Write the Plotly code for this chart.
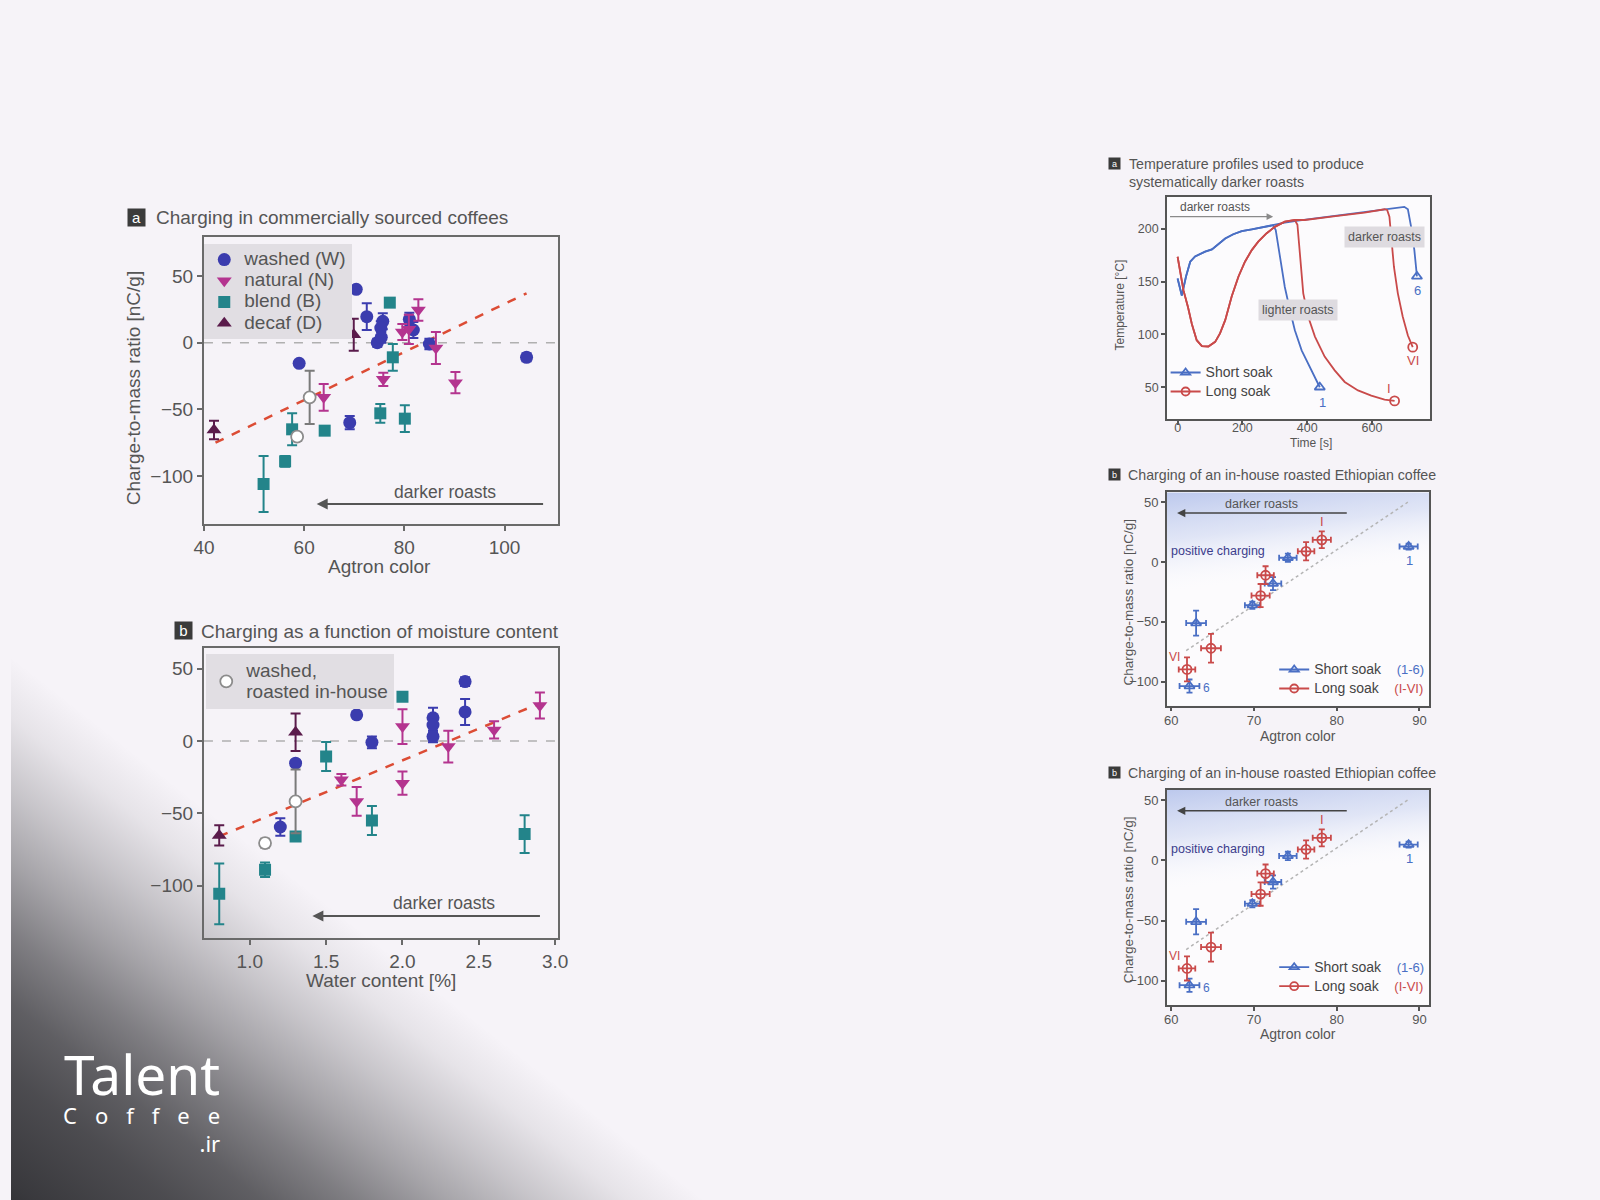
import base64
import plotly.graph_objects as go

W, H = 1600, 1200
FONT = "Liberation Sans, Arial, Helvetica, sans-serif"
TXT = "#555555"

# ---------------- data ----------------
# Panel a: commercially sourced coffees, Agtron colour vs charge-to-mass ratio [nC/g]
washed_agtron = [70.4, 72.5, 75.7, 75.3, 74.6, 75.4, 81.0, 81.8, 85.0, 104.4, 59.0, 69.1]
washed_charge_a = [40, 19.5, 16, 11, 0, 4, 17.5, 9.5, -1, -11, -15.5, -60]
washed_err_a = [2, 10, 6, 5, 3, 4, 5, 6, 4, 3, 2, 5]

natural_agtron = [82.8, 79.6, 80.9, 86.3, 75.8, 90.2, 63.9]
natural_charge_a = [24.5, 8, 10, -4, -27.5, -30, -41]
natural_err_a = [8, 6, 11, 12, 5, 8, 10]

blend_agtron = [77.1, 77.7, 75.2, 80.1, 64.1, 57.6, 56.2, 51.9]
blend_charge_a = [30, -11, -53, -57, -66, -65, -89, -106]
blend_err_a = [3, 10, 7, 10, 2, 12, 4, 21]

decaf_agtron = [69.9, 42.0]
decaf_charge_a = [6, -65.5]
decaf_err_a = [12, 7]

inhouse_agtron = [61.1, 58.6]
inhouse_charge_a = [-41, -70.5]
inhouse_err_a = [20, 3]

fit_a_x = [42.3, 104.4]
fit_a_y = [-75, 37]

# Panel b: water content [%] vs charge-to-mass ratio
washed_water = [2.41, 2.41, 2.2, 2.2, 2.2, 1.7, 1.8, 1.3, 1.2]
washed_charge_b = [41, 20, 16, 11, 3, 18, -1, -15.4, -59.5]
washed_err_b = [3, 9, 7, 5, 4, 2, 4, 2, 6]

natural_water = [2.9, 2.6, 2.0, 2.0, 2.3, 1.6, 1.7]
natural_charge_b = [24.4, 7.6, 9.9, -29.2, -3.9, -26.9, -41.8]
natural_err_b = [9, 6, 12, 8, 11, 4, 10]

blend_water = [2.0, 1.5, 1.8, 2.8, 1.3, 1.1, 0.8]
blend_charge_b = [30.6, -10.8, -55, -64.4, -66, -89, -105.7]
blend_err_b = [3, 10, 10, 13, 2, 5, 21]

decaf_water = [1.3, 0.8]
decaf_charge_b = [6, -65.3]
decaf_err_b = [13, 7]

inhouse_water = [1.3, 1.1]
inhouse_charge_b = [-41.8, -70.6]
inhouse_err_b = [22, 3]

fit_b_x = [0.8, 2.9]
fit_b_y = [-66, 26]

# Temperature profiles (time [s], temperature [°C])
short_common_t = [0, 13, 26, 39, 54, 85, 106, 126, 147, 172, 198, 229, 259, 295]
short_common_T = [153, 137, 155, 169, 174, 178.5, 180.7, 185.4, 191, 195, 198, 199.7, 201.6, 203.5]
short1_tail_t = [303, 311, 321, 331, 347, 362, 383, 403, 424, 439]
short1_tail_T = [199, 183, 164, 145, 123, 104, 85, 72.5, 60, 50]
short6_tail_t = [331, 372, 475, 577, 659, 700, 711, 721, 731, 739]
short6_tail_T = [206, 208, 212, 216.5, 219.6, 221, 218.7, 202, 180, 155]

long_common_t = [0, 8, 18, 32, 44, 59, 75, 95, 116, 131, 147, 167, 188, 208, 229, 249, 275, 300, 331, 362]
long_common_T = [173.7, 158, 142, 126, 110, 94.6, 89, 88.6, 93, 101, 113.6, 136, 155, 169, 180, 188, 196, 202, 207, 208.5]
longI_tail_t = [370, 375, 381, 388, 403, 424, 454, 485, 516, 557, 598, 639, 670]
longI_tail_T = [204, 186, 161, 139, 117, 98, 79, 66, 55, 47, 42, 38.3, 37]
longVI_tail_t = [393, 475, 577, 639, 647, 654, 659, 668, 680, 695, 711, 726]
longVI_tail_T = [208.5, 211.7, 215.5, 218.7, 218, 211.7, 192.7, 164, 139, 117, 99, 88]

# In-house roasted Ethiopian coffee: Agtron colour vs charge-to-mass ratio
short_agtron = [88.7, 74.1, 72.3, 69.8, 63.0, 62.2]
short_charge = [13, 3.6, -18, -36, -51, -103.6]
short_agtron_err = [1.1, 1.06, 1.0, 0.9, 1.2, 1.2]
short_charge_err = [2.5, 3.5, 5.5, 3, 10.5, 5.5]

long_agtron = [78.2, 76.3, 71.4, 70.8, 64.8, 61.9]
long_charge = [18.6, 9, -11, -28, -72, -89.7]
long_agtron_err = [1.1, 1.0, 1.0, 1.1, 1.2, 1.0]
long_charge_err = [7, 7.6, 7.5, 9.7, 12, 10]

guide_x = [61.8, 88.6]
guide_y = [-74, 50]

# axis ranges and ticks
a_xrange, a_yrange = [40, 110.6], [-136, 79]
b_xrange, b_yrange = [0.70, 3.016], [-136, 64]
t_xrange, t_yrange = [-33, 779], [19.6, 230.6]
e_xrange, e_yrange = [59.47, 91.2], [-120, 58.3]
a_xticks, a_yticks = [40, 60, 80, 100], [-100, -50, 0, 50]
b_xticks = [1.0, 1.5, 2.0, 2.5, 3.0]
t_xticks, t_yticks = [0, 200, 400, 600], [50, 100, 150, 200]
e_xticks, e_yticks = [60, 70, 80, 90], [-100, -50, 0, 50]

# ---------------- styles ----------------
C_WASHED = "#3b3cae"
C_NATURAL = "#b4348f"
C_BLEND = "#23848a"
C_DECAF = "#5a1b4b"
C_FIT = "#dc4c35"
C_SHORT = "#4a6fc4"
C_LONG = "#c94a4a"
LEFT_FS = 19          # text size in the two left panels
RIGHT_TITLE_FS = 14.2

# the page is photographed with the figure drawn 8 px in from the left and 1584 px wide
OX, PW = 8.0, 1584.0


def px(x):
    return (x - OX) / PW


def py(y):
    return 1 - y / H


def xdom(l, r):
    return [px(l), px(r)]


def ydom(t, b):
    return [1 - b / H, 1 - t / H]


def sz(text, size, color=None, extra=""):
    style = "font-size:%spx" % size
    if color:
        style += ";color:%s" % color
    if extra:
        style += ";" + extra
    return "<span style='%s'>%s</span>" % (style, text)


fig = go.Figure()


def add_points(x, y, err, color, symbol, name, xa, ya, legend, show, size=13, hollow=False):
    if hollow:
        marker = dict(symbol="circle", size=size - 1, color="#ffffff",
                      line=dict(color="#8c8c8c", width=1.8))
        ecolor = "#7a7a7a"
    else:
        marker = dict(symbol=symbol, size=size, color=color, line=dict(width=0))
        ecolor = color
    fig.add_trace(go.Scatter(
        x=x, y=y, mode="markers", name=name, xaxis=xa, yaxis=ya, legend=legend,
        showlegend=show, marker=marker, hoverinfo="skip",
        error_y=dict(type="data", array=err, color=ecolor, thickness=2, width=5)))


def add_line(x, y, xa, ya, color, width, dash="solid"):
    fig.add_trace(go.Scatter(x=x, y=y, mode="lines", xaxis=xa, yaxis=ya, showlegend=False,
                             hoverinfo="skip", line=dict(color=color, width=width, dash=dash)))


# Panel a
add_line(fit_a_x, fit_a_y, "x", "y", C_FIT, 2.5, "dash")
add_points(washed_agtron, washed_charge_a, washed_err_a, C_WASHED, "circle", sz("washed (W)", 19), "x", "y", "legend", True)
add_points(natural_agtron, natural_charge_a, natural_err_a, C_NATURAL, "triangle-down", sz("natural (N)", 19), "x", "y", "legend", True)
add_points(blend_agtron, blend_charge_a, blend_err_a, C_BLEND, "square", sz("blend (B)", 19), "x", "y", "legend", True, size=12)
add_points(decaf_agtron, decaf_charge_a, decaf_err_a, C_DECAF, "triangle-up", sz("decaf (D)", 19), "x", "y", "legend", True)
add_points(inhouse_agtron, inhouse_charge_a, inhouse_err_a, None, None, "washed, roasted in-house", "x", "y", "legend", False, hollow=True)

# Panel b
add_line(fit_b_x, fit_b_y, "x2", "y2", C_FIT, 2.5, "dash")
add_points(washed_water, washed_charge_b, washed_err_b, C_WASHED, "circle", "washed (W)", "x2", "y2", "legend2", False)
add_points(natural_water, natural_charge_b, natural_err_b, C_NATURAL, "triangle-down", "natural (N)", "x2", "y2", "legend2", False)
add_points(blend_water, blend_charge_b, blend_err_b, C_BLEND, "square", "blend (B)", "x2", "y2", "legend2", False, size=12)
add_points(decaf_water, decaf_charge_b, decaf_err_b, C_DECAF, "triangle-up", "decaf (D)", "x2", "y2", "legend2", False)
add_points(inhouse_water, inhouse_charge_b, inhouse_err_b, None, None,
           sz("washed,", 19) + "<br>" + sz("roasted in-house", 19), "x2", "y2", "legend2", True, hollow=True)

# Temperature profiles
add_line(short_common_t + short1_tail_t, short_common_T + short1_tail_T, "x3", "y3", C_SHORT, 1.8)
add_line(short_common_t + short6_tail_t, short_common_T + short6_tail_T, "x3", "y3", C_SHORT, 1.8)
add_line(long_common_t + longI_tail_t, long_common_T + longI_tail_T, "x3", "y3", C_LONG, 1.8)
add_line(long_common_t + longVI_tail_t, long_common_T + longVI_tail_T, "x3", "y3", C_LONG, 1.8)
fig.add_trace(go.Scatter(x=[short1_tail_t[-1], short6_tail_t[-1]], y=[short1_tail_T[-1], short6_tail_T[-1]],
                         mode="markers", xaxis="x3", yaxis="y3", showlegend=False, hoverinfo="skip",
                         marker=dict(symbol="triangle-up-open", size=9, color=C_SHORT, line=dict(width=1.8))))
fig.add_trace(go.Scatter(x=[longI_tail_t[-1], longVI_tail_t[-1]], y=[longI_tail_T[-1], longVI_tail_T[-1]],
                         mode="markers", xaxis="x3", yaxis="y3", showlegend=False, hoverinfo="skip",
                         marker=dict(symbol="circle-open", size=9, color=C_LONG, line=dict(width=1.8))))
fig.add_trace(go.Scatter(x=[None], y=[None], mode="lines+markers", name=sz("Short soak", 14), legend="legend3",
                         line=dict(color=C_SHORT, width=1.8),
                         marker=dict(symbol="triangle-up-open", size=8, color=C_SHORT, line=dict(width=1.8))))
fig.add_trace(go.Scatter(x=[None], y=[None], mode="lines+markers", name=sz("Long soak", 14), legend="legend3",
                         line=dict(color=C_LONG, width=1.8),
                         marker=dict(symbol="circle-open", size=8, color=C_LONG, line=dict(width=1.8))))

# Ethiopian coffee panels (two identical copies)
for xa, ya, lg in [("x4", "y4", "legend4"), ("x5", "y5", "legend5")]:
    add_line(guide_x, guide_y, xa, ya, "#b4b4b4", 1.5, "dot")
    fig.add_trace(go.Scatter(
        x=short_agtron, y=short_charge, mode="markers", xaxis=xa, yaxis=ya, showlegend=False, hoverinfo="skip",
        marker=dict(symbol="triangle-up-open", size=9, color=C_SHORT, line=dict(width=1.8)),
        error_x=dict(type="data", array=short_agtron_err, color=C_SHORT, thickness=1.8, width=3),
        error_y=dict(type="data", array=short_charge_err, color=C_SHORT, thickness=1.8, width=3)))
    fig.add_trace(go.Scatter(
        x=long_agtron, y=long_charge, mode="markers", xaxis=xa, yaxis=ya, showlegend=False, hoverinfo="skip",
        marker=dict(symbol="circle-open", size=9, color=C_LONG, line=dict(width=1.8)),
        error_x=dict(type="data", array=long_agtron_err, color=C_LONG, thickness=1.8, width=3),
        error_y=dict(type="data", array=long_charge_err, color=C_LONG, thickness=1.8, width=3)))
    fig.add_trace(go.Scatter(
        x=[None], y=[None], mode="lines+markers", legend=lg,
        name=sz("Short soak\u00a0\u00a0\u00a0\u00a0", 14) + sz("(1-6)", 13, C_SHORT),
        line=dict(color=C_SHORT, width=1.8),
        marker=dict(symbol="triangle-up-open", size=8, color=C_SHORT, line=dict(width=1.8))))
    fig.add_trace(go.Scatter(
        x=[None], y=[None], mode="lines+markers", legend=lg,
        name=sz("Long soak\u00a0\u00a0\u00a0\u00a0", 14) + sz("(I-VI)", 13, C_LONG),
        line=dict(color=C_LONG, width=1.8),
        marker=dict(symbol="circle-open", size=8, color=C_LONG, line=dict(width=1.8))))


# ---------------- axes ----------------
def ax(dom, anchor, rng, tickvals, size, lc="#6a6a6a", lw=2, ticklen=5, fmt=None, standoff=0):
    d = dict(domain=dom, anchor=anchor, range=rng, tickmode="array", tickvals=tickvals,
             showgrid=False, zeroline=False, showline=True, mirror=True, linecolor=lc,
             linewidth=lw, ticks="outside", ticklen=ticklen, tickwidth=1.5, tickcolor=lc,
             tickfont=dict(family=FONT, size=size, color=TXT), fixedrange=True,
             ticklabelstandoff=standoff)
    if fmt:
        d["tickformat"] = fmt
    return d


layout_axes = dict(
    xaxis=ax(xdom(201.7, 556.7), "y", a_xrange, a_xticks, LEFT_FS),
    yaxis=ax(ydom(237.3, 524), "x", a_yrange, a_yticks, LEFT_FS),
    xaxis2=ax(xdom(201.7, 556.7), "y2", b_xrange, b_xticks, LEFT_FS, fmt=".1f"),
    yaxis2=ax(ydom(648.3, 937.7), "x2", b_yrange, a_yticks, LEFT_FS),
    xaxis3=ax(xdom(1168.3, 1432.3), "y3", t_xrange, t_xticks, 12.5, lc="#555", lw=1.5, ticklen=4, standoff=-8),
    yaxis3=ax(ydom(196.7, 419.3), "x3", t_yrange, t_yticks, 12.5, lc="#555", lw=1.5, ticklen=4),
    xaxis4=ax(xdom(1168.3, 1431.7), "y4", e_xrange, e_xticks, 13, lc="#555", lw=1.5, ticklen=4, standoff=-2),
    yaxis4=ax(ydom(492.3, 705.7), "x4", e_yrange, e_yticks, 13, lc="#555", lw=1.5, ticklen=4),
    xaxis5=ax(xdom(1168.3, 1431.7), "y5", e_xrange, e_xticks, 13, lc="#555", lw=1.5, ticklen=4, standoff=-2),
    yaxis5=ax(ydom(790, 1005), "x5", e_yrange, e_yticks, 13, lc="#555", lw=1.5, ticklen=4),
)


# ---------------- annotations ----------------
def ann(text, x, y, size, color=TXT, xanchor="center", yanchor="middle", family=FONT, **kw):
    return dict(text=text, x=px(x), y=py(y), xref="paper", yref="paper", showarrow=False,
                xanchor=xanchor, yanchor=yanchor, font=dict(family=family, size=size, color=color), **kw)


def dann(text, x, y, xa, ya, size, color=TXT, **kw):
    return dict(text=text, x=x, y=y, xref=xa, yref=ya, showarrow=False,
                font=dict(family=FONT, size=size, color=color), **kw)


def arrow(x_head, x_tail, y, xa, ya, color, width):
    return dict(text="", x=x_head, y=y, ax=x_tail, ay=y, xref=xa, yref=ya, axref=xa, ayref=ya,
                showarrow=True, arrowhead=2, arrowsize=1.1, arrowwidth=width, arrowcolor=color)


def badge(letter, x, y, size, box):
    return ann(letter, x, y, size, color="#ffffff", bgcolor="#3b3b3b", width=box, height=box,
               borderpad=0, align="center")


annotations = [
    # panel a
    badge("a", 134, 217.5, 15, 17),
    ann("Charging in commercially sourced coffees", 152, 218, LEFT_FS, xanchor="left"),
    ann("Charge-to-mass ratio [nC/g]", 131.7, 388, LEFT_FS, textangle=-90),
    ann("Agtron color", 378, 566.7, LEFT_FS),
    dann("darker roasts", 88.2, -112, "x", "y", 17.5),
    arrow(62.5, 108, -121, "x", "y", "#555555", 2),
    # panel b
    badge("b", 181, 630.5, 15, 17),
    ann("Charging as a function of moisture content", 197, 631, LEFT_FS, xanchor="left"),
    ann("Water content [%]", 379, 980, LEFT_FS),
    dann("darker roasts", 2.27, -112, "x2", "y2", 17.5),
    arrow(1.41, 2.91, -121, "x2", "y2", "#555555", 2),
    # temperature panel
    badge("a", 1116, 163, 9, 11),
    ann("Temperature profiles used to produce<br>systematically darker roasts", 1128, 173, RIGHT_TITLE_FS,
        xanchor="left", align="left"),
    ann("Temperature [°C]", 1121.7, 305, 12, textangle=-90),
    ann("Time [s]", 1313, 443, 12),
    dann("darker roasts", 116, 221, "x3", "y3", 12),
    arrow(295, -28, 211.7, "x3", "y3", "#8a8a8a", 1.2),
    dann("darker roasts", 640, 192, "x3", "y3", 12.5, bgcolor="#dedbe0", borderpad=3),
    dann("lighter roasts", 372, 123, "x3", "y3", 12.5, bgcolor="#dedbe0", borderpad=3),
    dann("1", 446, 36, "x3", "y3", 13, color=C_SHORT),
    dann("6", 741, 142, "x3", "y3", 13, color=C_SHORT),
    dann("I", 654, 49, "x3", "y3", 13, color=C_LONG),
    dann("VI", 726, 75, "x3", "y3", 13, color=C_LONG),
]

for xa, ya, dy in [("x4", "y4", 0), ("x5", "y5", 297.7)]:
    annotations += [
        badge("b", 1116, 475 + dy, 9, 11),
        ann("Charging of an in-house roasted Ethiopian coffee", 1127, 475 + dy, RIGHT_TITLE_FS, xanchor="left"),
        ann("Charge-to-mass ratio [nC/g]", 1130, 601.7 + dy, 13.5, textangle=-90),
        ann("Agtron color", 1300, 736 + dy, 14),
        dann("positive charging", 65.7, 9, xa, ya, 12.5, color="#3c3c8c"),
        dann("darker roasts", 70.9, 48.6, xa, ya, 12.5),
        arrow(60.7, 81.4, 41, xa, ya, "#444444", 1.5),
        dann("1", 88.8, 1.5, xa, ya, 13, color=C_SHORT),
        dann("6", 64.3, -105.5, xa, ya, 12, color=C_SHORT),
        dann("I", 78.2, 33.5, xa, ya, 13, color=C_LONG),
        dann("VI", 60.4, -79, xa, ya, 12, color=C_LONG),
    ]

# logo (one block of text)
LOGO_FONT = "Noto Sans, Open Sans, DejaVu Sans, sans-serif"
logo_text = (sz("Talent", 55) + "<br>" + sz("Coffe", 22, extra="letter-spacing:18px") + "e"
             + "<br>" + ".ir")
annotations.append(ann(logo_text, 220, 1160, 22, color="#ffffff", family=LOGO_FONT,
                       xanchor="right", yanchor="bottom", align="right"))


# ---------------- background images ----------------
def svg_uri(svg):
    return "data:image/svg+xml;base64," + base64.b64encode(svg.encode("utf-8")).decode("ascii")


# linear shade rising into the bottom-left corner (page pixel space)
SHADE_X1, SHADE_Y0 = 720, 640
shade_stops = [(0.0, 0.92), (0.044, 0.89), (0.238, 0.80), (0.369, 0.71), (0.498, 0.56),
               (0.629, 0.38), (0.758, 0.22), (0.889, 0.075), (1.0, 0.0)]
corner_svg = (
    "<svg xmlns='http://www.w3.org/2000/svg' width='%d' height='%d' viewBox='%d %d %d %d' "
    "preserveAspectRatio='none'><defs><linearGradient id='g' gradientUnits='userSpaceOnUse' "
    "x1='0' y1='1200' x2='266.8' y2='858.4'>"
    % (SHADE_X1 - OX, H - SHADE_Y0, OX, SHADE_Y0, SHADE_X1 - OX, H - SHADE_Y0)
    + "".join("<stop offset='%s' stop-color='#222226' stop-opacity='%s'/>" % (o, a) for o, a in shade_stops)
    + "</linearGradient></defs><rect x='%d' y='%d' width='%d' height='%d' fill='url(#g)'/></svg>"
    % (OX, SHADE_Y0, SHADE_X1 - OX, H - SHADE_Y0))

blue_svg = (
    "<svg xmlns='http://www.w3.org/2000/svg' width='100' height='100' viewBox='0 0 100 100' "
    "preserveAspectRatio='none'><defs><linearGradient id='b' x1='0' y1='0' x2='0.15' y2='1'>"
    "<stop offset='0' stop-color='#b9c6ec' stop-opacity='0.95'/>"
    "<stop offset='0.22' stop-color='#cdd6f1' stop-opacity='0.6'/>"
    "<stop offset='0.48' stop-color='#ffffff' stop-opacity='0'/>"
    "</linearGradient></defs><rect width='100' height='100' fill='url(#b)'/></svg>")

images = [dict(source=svg_uri(corner_svg), xref="paper", yref="paper", x=px(OX), y=py(SHADE_Y0),
               sizex=px(SHADE_X1) - px(OX), sizey=(H - SHADE_Y0) / H, xanchor="left", yanchor="top",
               sizing="stretch", layer="below")]
for xa, ya in [("x4", "y4"), ("x5", "y5")]:
    images.append(dict(source=svg_uri(blue_svg), xref=xa, yref=ya, x=e_xrange[0], y=e_yrange[1],
                       sizex=e_xrange[1] - e_xrange[0], sizey=e_yrange[1] - e_yrange[0],
                       xanchor="left", yanchor="top", sizing="stretch", layer="below"))

# ---------------- shapes ----------------
shapes = [
    dict(type="line", xref="x domain", yref="y", x0=0, x1=1, y0=0, y1=0,
         line=dict(color="#b0b0b0", width=1.5, dash="dash"), layer="below"),
    dict(type="line", xref="x2 domain", yref="y2", x0=0, x1=1, y0=0, y1=0,
         line=dict(color="#b0b0b0", width=1.5, dash="dash"), layer="below"),
]
for (l, r, t, b) in [(1168.3, 1432.3, 196.7, 419.3), (1168.3, 1431.7, 492.3, 705.7), (1168.3, 1431.7, 790, 1005)]:
    shapes.append(dict(type="rect", xref="paper", yref="paper", x0=px(l), x1=px(r), y0=py(b), y1=py(t),
                       fillcolor="rgba(255,255,255,0.65)", line=dict(width=0), layer="below"))


# ---------------- legends ----------------
def legend(x, y, size, bg, color=TXT):
    return dict(x=px(x), y=py(y), xanchor="left", yanchor="top", bgcolor=bg, borderwidth=0,
                font=dict(family=FONT, size=size, color=color), itemwidth=30, tracegroupgap=0,
                valign="middle")


fig.update_layout(
    width=W, height=H, autosize=False,
    margin=dict(l=0, r=0, t=0, b=0, pad=0),
    paper_bgcolor="#f6f3f8", plot_bgcolor="rgba(0,0,0,0)",
    font=dict(family=FONT, color=TXT),
    showlegend=True,
    legend=legend(202, 244, 14, "#e1dee3"),
    legend2=legend(204, 654, 16, "#e1dee3"),
    legend3=legend(1167, 358, 11.5, "rgba(0,0,0,0)", "#444444"),
    legend4=legend(1276, 655, 12, "rgba(0,0,0,0)", "#444444"),
    legend5=legend(1276, 952.7, 12, "rgba(0,0,0,0)", "#444444"),
    annotations=annotations,
    images=images,
    shapes=shapes,
    **layout_axes,
)

fig.write_html("out.html")
